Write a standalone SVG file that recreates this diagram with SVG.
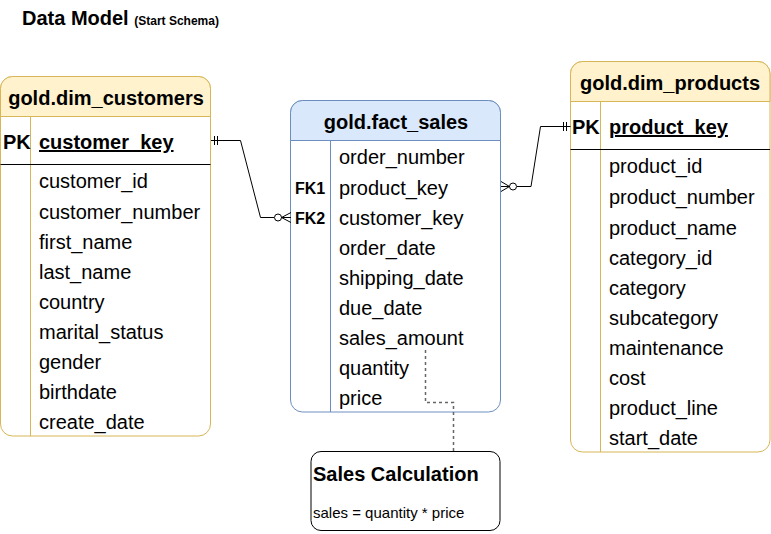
<svg xmlns="http://www.w3.org/2000/svg" width="771" height="534" viewBox="0 0 771 534">
<style>
text{font-family:"Liberation Sans",Arial,sans-serif;fill:#000}
.b{font-weight:bold}
.t{font-size:20px}
.f{font-size:20px}
.fk{font-size:16px;font-weight:bold}
.body{fill:#fff}
.y{stroke:#d6b656;stroke-width:1}
.bl{stroke:#6c8ebf;stroke-width:1}
.yh{fill:#fff2cc}
.bh{fill:#dae8fc}
.ln{stroke:#000;stroke-width:1;fill:none}
</style>
<rect width="771" height="534" fill="#fff"/>
<text x="22" y="25" class="b" font-size="20">Data Model <tspan font-size="12">(Start Schema)</tspan></text>

<g id="dim_customers">
<rect x="0.5" y="76.5" width="210" height="359.5" rx="12" class="body y"/>
<path d="M0.5 116.5 V88.5 A12 12 0 0 1 12.5 76.5 H198.5 A12 12 0 0 1 210.5 88.5 V116.5 Z" class="yh y"/>
<line x1="30.5" y1="116.5" x2="30.5" y2="436" class="y"/>
<line x1="0.5" y1="164.5" x2="210.5" y2="164.5" stroke="#000"/>
<text x="106" y="105" text-anchor="middle" class="b t">gold.dim_customers</text>
<text x="3" y="149" class="b t">PK</text>
<text x="39" y="149" class="b t" text-decoration="underline">customer_key</text>
<text class="f" x="39" y="188">customer_id</text>
<text class="f" x="39" y="219">customer_number</text>
<text class="f" x="39" y="249">first_name</text>
<text class="f" x="39" y="279">last_name</text>
<text class="f" x="39" y="309">country</text>
<text class="f" x="39" y="339">marital_status</text>
<text class="f" x="39" y="369">gender</text>
<text class="f" x="39" y="399">birthdate</text>
<text class="f" x="39" y="429">create_date</text>
</g>

<g id="fact_sales">
<rect x="290.5" y="100.5" width="210" height="311.5" rx="12" class="body bl"/>
<path d="M290.5 140.5 V112.5 A12 12 0 0 1 302.5 100.5 H488.5 A12 12 0 0 1 500.5 112.5 V140.5 Z" class="bh bl"/>
<line x1="330.5" y1="140.5" x2="330.5" y2="412" class="bl"/>
<text x="396" y="129" text-anchor="middle" class="b t">gold.fact_sales</text>
<text class="f" x="339" y="164">order_number</text>
<text class="fk" x="295" y="194">FK1</text>
<text class="f" x="339" y="195">product_key</text>
<text class="fk" x="295" y="224">FK2</text>
<text class="f" x="339" y="225">customer_key</text>
<text class="f" x="339" y="255">order_date</text>
<text class="f" x="339" y="285">shipping_date</text>
<text class="f" x="339" y="315">due_date</text>
<text class="f" x="339" y="345">sales_amount</text>
<text class="f" x="339" y="375">quantity</text>
<text class="f" x="339" y="405">price</text>
</g>

<g id="dim_products">
<rect x="570.5" y="61.5" width="199.5" height="390.5" rx="12" class="body y"/>
<path d="M570.5 101.5 V73.5 A12 12 0 0 1 582.5 61.5 H758 A12 12 0 0 1 770 73.5 V101.5 Z" class="yh y"/>
<line x1="600.5" y1="101.5" x2="600.5" y2="452" class="y"/>
<line x1="570.5" y1="149.5" x2="770" y2="149.5" stroke="#000"/>
<text x="670" y="90" text-anchor="middle" class="b t">gold.dim_products</text>
<text x="572" y="134" class="b t">PK</text>
<text x="609" y="134" class="b t" text-decoration="underline">product_key</text>
<text class="f" x="609" y="173">product_id</text>
<text class="f" x="609" y="204">product_number</text>
<text class="f" x="609" y="235">product_name</text>
<text class="f" x="609" y="265">category_id</text>
<text class="f" x="609" y="295">category</text>
<text class="f" x="609" y="325">subcategory</text>
<text class="f" x="609" y="355">maintenance</text>
<text class="f" x="609" y="385">cost</text>
<text class="f" x="609" y="415">product_line</text>
<text class="f" x="609" y="445">start_date</text>
</g>

<g id="sales_calc">
<rect x="311" y="451.5" width="189" height="79" rx="10" fill="#fff" stroke="#000"/>
<text x="313" y="481" class="b t">Sales Calculation</text>
<text x="313" y="518" font-size="15">sales = quantity * price</text>
</g>

<g id="connectors">
<path d="M211 140.5 H240.5 L260.5 217.5 H274" class="ln"/>
<line x1="214.5" y1="136" x2="214.5" y2="145" class="ln"/>
<line x1="217.5" y1="136" x2="217.5" y2="145" class="ln"/>
<circle cx="278" cy="217.5" r="3.5" class="ln"/>
<path d="M281.5 217.5 H291 M291 212.5 L281.5 217.5 L291 222.5" class="ln"/>
<path d="M517 186.5 H531 L540.5 126.5 H570.5" class="ln"/>
<line x1="563.5" y1="122" x2="563.5" y2="131" class="ln"/>
<line x1="566.5" y1="122" x2="566.5" y2="131" class="ln"/>
<circle cx="513" cy="186.5" r="3.5" class="ln"/>
<path d="M501 186.5 H509.5 M501 181.5 L509.5 186.5 L501 191.5" class="ln"/>
<path d="M425.5 350 V402.5 H453.5 V451" fill="none" stroke="#666" stroke-width="1.5" stroke-dasharray="3 3"/>
</g>
</svg>
